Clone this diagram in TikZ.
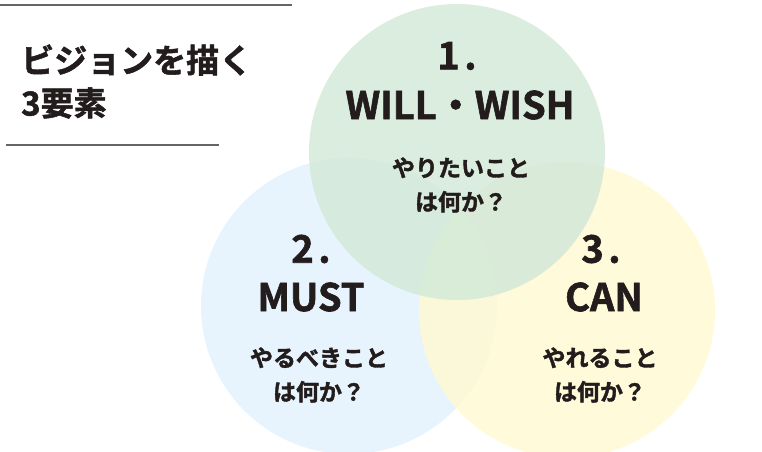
\documentclass[tikz,border=0pt]{standalone}
\usepackage{fontspec}
\usetikzlibrary{positioning}
\newfontfamily\jpfont{Noto Sans CJK JP Bold}[FakeBold=1.6]
\definecolor{vink}{RGB}{35,28,28}
\definecolor{vrule}{RGB}{105,100,100}
\definecolor{vgreen}{RGB}{211,234,216}
\definecolor{vblue}{RGB}{232,244,253}
\definecolor{vyellow}{RGB}{255,249,211}
\tikzset{
  ring/.style={circle, draw=none, inner sep=0pt, minimum size=296pt},
  vttl/.style={font=\jpfont\fontsize{33}{38}\selectfont, text=vink, anchor=west, inner sep=0pt},
  vnum/.style={font=\jpfont\fontsize{38}{44}\selectfont, text=vink, inner sep=0pt},
  vkey/.style={font=\jpfont\fontsize{38}{44}\selectfont, text=vink, inner sep=0pt},
  vq/.style={font=\jpfont\fontsize{23}{34}\selectfont, text=vink, align=center, inner sep=0pt},
  vline/.style={draw=vrule, line width=1.6pt}
}
\begin{document}
\begin{tikzpicture}[x=1pt,y=-1pt]
  \useasboundingbox (0,0) rectangle (762,451);
  \clip (0,0) rectangle (762,451);
  % three circles
  \node[ring, fill=vblue] (must) at (349,306) {};
  \node[ring, fill=vyellow, fill opacity=0.85] (can) at (567,310) {};
  \node[ring, fill=vgreen, fill opacity=0.85] (will) at (457,152) {};
  % title
  \draw[vline] (0,5) -- (292,5);
  \node[vttl] (title1) at (21,60) {ビジョンを描く};
  \node[vttl] (title2) at (21,103) {3要素};
  \draw[vline] (6,145) -- (219,145);
  % WILL
  \node[vnum] (willnum) at (457,56) {1\hspace{0.12em}.};
  \node[vkey] (willkey) at (460,105) {WILL・WISH};
  \node[vq] (willq) at (461,185) {やりたいこと\\は何か？};
  % MUST
  \node[vnum] (mustnum) at (311,249) {2\hspace{0.12em}.};
  \node[vkey] (mustkey) at (311,297) {MUST};
  \node[vq] (mustq) at (319,375) {やるべきこと\\は何か？};
  % CAN
  \node[vnum] (cannum) at (601,249) {3\hspace{0.12em}.};
  \node[vkey] (cankey) at (604,297) {CAN};
  \node[vq] (canq) at (600,375) {やれること\\は何か？};
\end{tikzpicture}
\end{document}
